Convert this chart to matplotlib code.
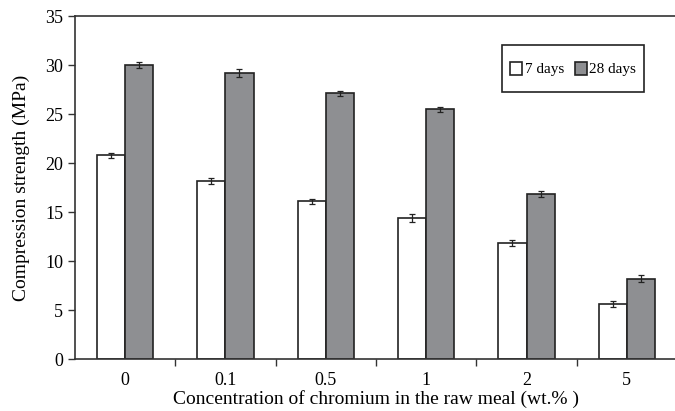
import matplotlib
matplotlib.use('Agg')
import matplotlib.pyplot as plt
from matplotlib.container import BarContainer
from matplotlib.legend_handler import HandlerPatch, update_from_first_child
from matplotlib.patches import Rectangle
import numpy as np

# ── data ─────────────────────────────────────────────────────────────────────
concentrations = ['0', '0.1', '0.5', '1', '2', '5']
strength_7d = [20.8, 18.2, 16.1, 14.4, 11.8, 5.6]
err_7d = [0.25, 0.3, 0.25, 0.4, 0.3, 0.3]
strength_28d = [30.0, 29.2, 27.1, 25.5, 16.8, 8.2]
err_28d = [0.3, 0.4, 0.25, 0.25, 0.3, 0.35]

plt.rcParams['font.family'] = ['Liberation Serif', 'DejaVu Serif']


def square_patch(legend, orig_handle, xdescent, ydescent, width, height, fontsize):
    # small square handle centred in a taller row
    return Rectangle((-xdescent, -ydescent + (height - width) / 2), width, width)


fig = plt.figure(figsize=(6.75, 4.11), dpi=100)
ax = fig.add_axes([0.111, 0.1265, 0.892, 0.8345])

x = np.arange(len(concentrations))
w = 0.28
edge = '#222222'
err_kw = dict(ecolor='#222222', elinewidth=0.9, capsize=2.5, capthick=0.9)

ax.bar(x - w / 2, strength_7d, w, yerr=err_7d, color='white',
       edgecolor=edge, linewidth=1.2, error_kw=err_kw, label='7 days')
ax.bar(x + w / 2, strength_28d, w, yerr=err_28d, color='#8e8f92',
       edgecolor=edge, linewidth=1.2, error_kw=err_kw, label='28 days')

ax.set_xlim(-0.5, 5.5)
ax.set_ylim(0, 35)
ax.set_yticks(range(0, 36, 5))
ax.set_xticks(x)
ax.set_xticklabels(concentrations)
ax.set_xticks(np.arange(0.5, 5.5, 1), minor=True)
ax.tick_params(axis='x', which='major', length=0, labelsize=13, pad=9)
ax.tick_params(axis='x', which='minor', length=5, width=1.0, color='#333333')
ax.tick_params(axis='y', length=5, width=1.0, color='#333333', labelsize=13)

for s in ['left', 'bottom', 'top']:
    ax.spines[s].set_linewidth(1.2)
    ax.spines[s].set_color('#333333')
ax.spines['right'].set_visible(False)

ax.set_ylabel('Compression strength (MPa)', fontsize=14, labelpad=11)
ax.set_xlabel('Concentration of chromium in the raw meal (wt.% )', fontsize=14, labelpad=1)

square = HandlerPatch(patch_func=square_patch, update_func=update_from_first_child)
leg = ax.legend(loc='center', bbox_to_anchor=(573 / 675, 1 - 68.5 / 411),
                bbox_transform=fig.transFigure, ncol=2, fontsize=11,
                handlelength=0.8, handleheight=2.7, handletextpad=0.15,
                columnspacing=0.7, borderpad=0.55, fancybox=False,
                framealpha=1, edgecolor='#222222',
                handler_map={BarContainer: square})
leg.get_frame().set_linewidth(1.2)

fig.savefig('out.png', dpi=100)
